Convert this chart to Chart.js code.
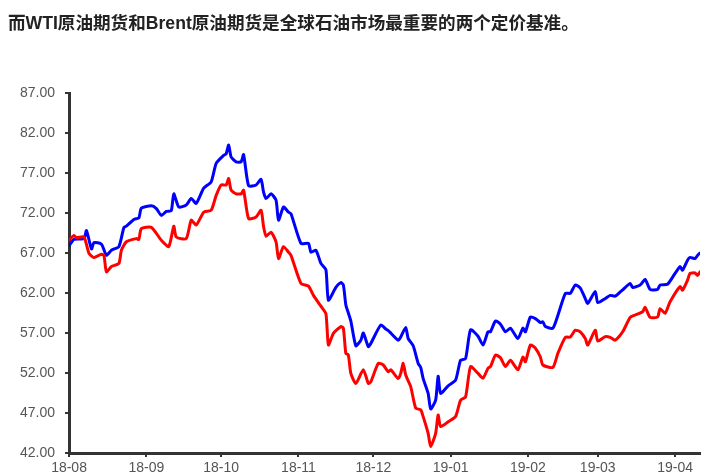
<!DOCTYPE html>
<html>
<head>
<meta charset="utf-8">
<script src="https://cdn.jsdelivr.net/npm/chart.js@4.4.1/dist/chart.umd.min.js"></script>
<style>
  html, body { margin: 0; padding: 0; background: #fff; }
  #wrap { position: relative; width: 720px; height: 476px; overflow: hidden; }
  #title {
    position: absolute; left: 8px; top: 9px;
    font: bold 17.6px "Liberation Sans", "Noto Sans CJK SC", sans-serif;
    color: #222; white-space: nowrap;
  }
  #chart { position: absolute; left: 0; top: 0; }
</style>
</head>
<body>
<div id="wrap">
  <canvas id="chart" width="720" height="476"></canvas>
  <div id="title">而WTI原油期货和Brent原油期货是全球石油市场最重要的两个定价基准。</div>
</div>
<script>
// axis start and month tick labels
const startDate = '2018-08-01';
const monthTicks = ['2018-08-01', '2018-09-01', '2018-10-01', '2018-11-01', '2018-12-01',
                    '2019-01-01', '2019-02-01', '2019-03-01', '2019-04-01'];
const monthLabels = ['18-08', '18-09', '18-10', '18-11', '18-12', '19-01', '19-02', '19-03', '19-04'];
const endDate = '2019-04-11';

// Brent (blue)
const brentDates = [
  '2018-08-01', '2018-08-03', '2018-08-07', '2018-08-08', '2018-08-10', '2018-08-11', '2018-08-14',
  '2018-08-16', '2018-08-18', '2018-08-21', '2018-08-23', '2018-08-24', '2018-08-27', '2018-08-29',
  '2018-08-30', '2018-09-03', '2018-09-05', '2018-09-07', '2018-09-09', '2018-09-11', '2018-09-12',
  '2018-09-14', '2018-09-17', '2018-09-19', '2018-09-21', '2018-09-24', '2018-09-27', '2018-09-29',
  '2018-10-02', '2018-10-03', '2018-10-04', '2018-10-05', '2018-10-07', '2018-10-09', '2018-10-10',
  '2018-10-12', '2018-10-15', '2018-10-17', '2018-10-18', '2018-10-19', '2018-10-21', '2018-10-23',
  '2018-10-24', '2018-10-26', '2018-10-28', '2018-10-29', '2018-11-02', '2018-11-05', '2018-11-06',
  '2018-11-08', '2018-11-10', '2018-11-12', '2018-11-13', '2018-11-16', '2018-11-18', '2018-11-19',
  '2018-11-20', '2018-11-21', '2018-11-22', '2018-11-24', '2018-11-26', '2018-11-27', '2018-11-29',
  '2018-11-30', '2018-12-04', '2018-12-06', '2018-12-07', '2018-12-08', '2018-12-11', '2018-12-12',
  '2018-12-14', '2018-12-15', '2018-12-17', '2018-12-19', '2018-12-20', '2018-12-21', '2018-12-23',
  '2018-12-24', '2018-12-26', '2018-12-27', '2018-12-28', '2018-12-31', '2019-01-03', '2019-01-05',
  '2019-01-07', '2019-01-09', '2019-01-12', '2019-01-14', '2019-01-16', '2019-01-17', '2019-01-19',
  '2019-01-21', '2019-01-23', '2019-01-25', '2019-01-28', '2019-01-30', '2019-01-31', '2019-02-02',
  '2019-02-04', '2019-02-06', '2019-02-07', '2019-02-08', '2019-02-11', '2019-02-13', '2019-02-16',
  '2019-02-18', '2019-02-20', '2019-02-22', '2019-02-24', '2019-02-25', '2019-02-28', '2019-03-01',
  '2019-03-04', '2019-03-06', '2019-03-08', '2019-03-11', '2019-03-14', '2019-03-15', '2019-03-18',
  '2019-03-20', '2019-03-22', '2019-03-25', '2019-03-26', '2019-03-29', '2019-04-01', '2019-04-03',
  '2019-04-04', '2019-04-06', '2019-04-07', '2019-04-09', '2019-04-10', '2019-04-11'
];
const brentValues = [
  67.9, 68.7, 68.8, 69.8, 67.5, 68.3, 68.1,
  66.7, 67.35, 67.8, 70.2, 70.35, 71.2, 71.4,
  72.6, 72.9, 72.55, 71.7, 72.2, 72.3, 74.4,
  72.75, 73.0, 73.8, 73.2, 75.1, 75.9, 78.2,
  79.2, 79.4, 80.5, 79.0, 78.4, 78.4, 79.3,
  75.4, 75.5, 76.2, 74.6, 73.8, 74.4, 73.6,
  71.1, 72.75, 72.1, 71.9, 68.2, 68.2, 67.1,
  67.35, 65.7, 64.9, 61.1, 62.7, 63.3, 63.0,
  60.5, 59.5, 58.5, 55.4, 56.1, 57.0, 55.3,
  55.7, 58.0, 57.5, 57.3, 57.0, 56.1, 56.5,
  57.7, 56.3, 55.4, 53.2, 52.7, 51.3, 49.45,
  47.5, 48.6, 51.6, 49.45, 50.4, 51.1, 53.6,
  53.8, 57.4, 56.6, 55.5, 57.15, 57.15, 58.5,
  58.1, 57.15, 57.6, 56.3, 57.6, 57.15, 59.0,
  58.8, 58.3, 58.4, 57.8, 57.6, 59.2, 61.95,
  61.95, 63.0, 62.6, 61.3, 60.7, 62.2, 60.8,
  61.3, 61.7, 61.6, 62.4, 63.2, 62.7, 63.0,
  63.7, 62.45, 62.45, 63.0, 63.1, 64.45, 65.3,
  64.85, 66.1, 66.45, 66.3, 66.7, 67.0
];

// WTI (red)
const wtiDates = [
  '2018-08-01', '2018-08-03', '2018-08-04', '2018-08-07', '2018-08-09', '2018-08-11', '2018-08-14',
  '2018-08-15', '2018-08-16', '2018-08-18', '2018-08-21', '2018-08-22', '2018-08-24', '2018-08-28',
  '2018-08-29', '2018-08-30', '2018-09-03', '2018-09-07', '2018-09-10', '2018-09-12', '2018-09-13',
  '2018-09-17', '2018-09-19', '2018-09-21', '2018-09-24', '2018-09-27', '2018-09-29', '2018-10-01',
  '2018-10-03', '2018-10-04', '2018-10-05', '2018-10-07', '2018-10-09', '2018-10-10', '2018-10-12',
  '2018-10-15', '2018-10-17', '2018-10-18', '2018-10-19', '2018-10-21', '2018-10-23', '2018-10-24',
  '2018-10-26', '2018-10-28', '2018-10-29', '2018-11-02', '2018-11-05', '2018-11-07', '2018-11-10',
  '2018-11-12', '2018-11-13', '2018-11-15', '2018-11-18', '2018-11-19', '2018-11-20', '2018-11-21',
  '2018-11-22', '2018-11-24', '2018-11-27', '2018-11-29', '2018-11-30', '2018-12-03', '2018-12-05',
  '2018-12-07', '2018-12-08', '2018-12-11', '2018-12-12', '2018-12-13', '2018-12-14', '2018-12-16',
  '2018-12-18', '2018-12-20', '2018-12-21', '2018-12-23', '2018-12-24', '2018-12-26', '2018-12-27',
  '2018-12-28', '2018-12-31', '2019-01-03', '2019-01-05', '2019-01-07', '2019-01-09', '2019-01-12',
  '2019-01-14', '2019-01-16', '2019-01-17', '2019-01-19', '2019-01-21', '2019-01-23', '2019-01-25',
  '2019-01-28', '2019-01-30', '2019-01-31', '2019-02-02', '2019-02-04', '2019-02-06', '2019-02-07',
  '2019-02-11', '2019-02-13', '2019-02-16', '2019-02-18', '2019-02-20', '2019-02-22', '2019-02-24',
  '2019-02-25', '2019-02-28', '2019-03-01', '2019-03-04', '2019-03-06', '2019-03-08', '2019-03-11',
  '2019-03-14', '2019-03-16', '2019-03-19', '2019-03-20', '2019-03-22', '2019-03-25', '2019-03-26',
  '2019-03-28', '2019-03-30', '2019-04-03', '2019-04-04', '2019-04-06', '2019-04-07', '2019-04-09',
  '2019-04-10', '2019-04-11'
];
const wtiValues = [
  68.6, 69.2, 68.9, 69.0, 66.95, 66.45, 66.85,
  66.7, 64.65, 65.3, 65.7, 67.35, 68.4, 68.8,
  68.7, 70.05, 70.2, 68.6, 67.8, 70.35, 69.0,
  68.8, 71.1, 70.5, 72.1, 72.35, 74.2, 75.5,
  75.5, 76.3, 74.85, 74.4, 74.4, 74.85, 71.3,
  71.5, 72.35, 70.3, 69.1, 69.6, 68.4, 66.3,
  67.8, 67.1, 66.7, 63.2, 62.85, 61.7, 60.35,
  59.4, 55.5, 56.95, 57.8, 57.6, 54.45, 54.25,
  51.95, 50.7, 52.4, 50.7, 50.9, 53.2, 53.0,
  52.15, 52.4, 51.3, 51.95, 53.2, 51.75, 50.3,
  47.6, 47.4, 46.55, 44.45, 42.8, 44.45, 46.75,
  45.3, 45.9, 46.55, 48.6, 49.0, 52.8, 51.95,
  51.35, 52.6, 52.8, 54.25, 53.9, 52.8, 53.6,
  52.4, 54.0, 53.4, 55.5, 55.1, 54.0, 53.0,
  52.7, 54.45, 56.45, 56.5, 57.35, 57.15, 56.3,
  55.5, 57.35, 56.0, 56.55, 56.45, 56.1, 57.15,
  58.95, 59.25, 59.65, 60.2, 58.95, 59.0, 60.05,
  59.45, 60.9, 62.8, 62.35, 63.6, 64.45, 64.5,
  64.2, 64.65
];

function dayOffset(d) {
  return (Date.parse(d) - Date.parse(startDate)) / 86400000;
}

function toPoints(dates, values) {
  return dates.map((d, i) => ({ x: dayOffset(d), y: values[i] }));
}

const tickDays = monthTicks.map(dayOffset);
const axisColor = '#333';
const labelColor = '#555';
const tickFont = { family: '"Liberation Sans", Arial, sans-serif', size: 14 };

const ctx = document.getElementById('chart').getContext('2d');
new Chart(ctx, {
  type: 'line',
  data: {
    datasets: [
      {
        label: 'WTI',
        data: toPoints(wtiDates, wtiValues),
        borderColor: '#ff0000',
        borderWidth: 3,
        pointRadius: 0,
        tension: 0.2,
        borderJoinStyle: 'round',
        borderCapStyle: 'round'
      },
      {
        label: 'Brent',
        data: toPoints(brentDates, brentValues),
        borderColor: '#0000ff',
        borderWidth: 3,
        pointRadius: 0,
        tension: 0.2,
        borderJoinStyle: 'round',
        borderCapStyle: 'round'
      }
    ]
  },
  options: {
    responsive: false,
    animation: false,
    layout: { padding: { top: 93, left: 10, right: 20, bottom: 0 } },
    plugins: { legend: { display: false }, tooltip: { enabled: false } },
    scales: {
      x: {
        type: 'linear',
        min: 0,
        max: dayOffset(endDate),
        afterBuildTicks: scale => {
          scale.ticks = tickDays.map(v => ({ value: v }));
        },
        afterFit: scale => {
          scale.height = 23;
        },
        ticks: {
          autoSkip: false,
          maxRotation: 0,
          color: labelColor,
          font: tickFont,
          padding: 3,
          callback: value => monthLabels[tickDays.indexOf(value)]
        },
        grid: { drawOnChartArea: false, drawTicks: true, tickLength: 4, color: axisColor, lineWidth: 2 },
        border: { display: true, color: axisColor, width: 3 }
      },
      y: {
        min: 42,
        max: 87,
        ticks: {
          stepSize: 5,
          color: labelColor,
          font: tickFont,
          padding: 10,
          callback: value => value.toFixed(2)
        },
        grid: { drawOnChartArea: false, drawTicks: true, tickLength: 4, color: axisColor, lineWidth: 2 },
        border: { display: true, color: axisColor, width: 3 }
      }
    }
  }
});
</script>
</body>
</html>
